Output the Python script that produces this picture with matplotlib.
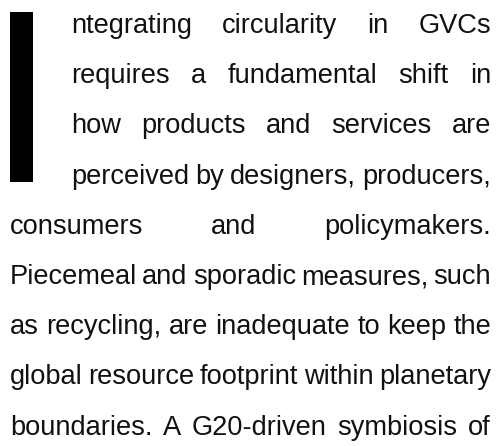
import matplotlib.pyplot as plt
from matplotlib.patches import Rectangle

# paragraph text, one entry per printed line
lines = [
    "ntegrating circularity in GVCs",
    "requires a fundamental shift in",
    "how products and services are",
    "perceived by designers, producers,",
    "consumers and policymakers.",
    "Piecemeal and sporadic measures, such",
    "as recycling, are inadequate to keep the",
    "global resource footprint within planetary",
    "boundaries. A G20-driven symbiosis of",
]
# lines beside the drop cap are indented
indented = [True, True, True, True, False, False, False, False, False]

W, H = 498, 446
fig = plt.figure(figsize=(W / 100, H / 100), dpi=100)
ax = fig.add_axes([0, 0, 1, 1])
ax.set_xlim(0, W)
ax.set_ylim(H, 0)
ax.axis('off')

# drop cap bar
ax.add_patch(Rectangle((10, 12), 23, 170, color='black', lw=0))

left_full, left_ind, right = 10, 71, 491
first_base, step = 33, 50.2
min_gap = 5

fig.canvas.draw()
renderer = fig.canvas.get_renderer()

texts_all = []
for i, line in enumerate(lines):
    y = first_base + i * step
    texts_all.append([ax.text(0, y, w, family='Liberation Sans', color='#111111',
                              va='baseline', ha='left') for w in line.split()])


def layout(fs):
    res = []
    for i, texts in enumerate(texts_all):
        for t in texts:
            t.set_fontsize(fs)
        x0 = left_ind if indented[i] else left_full
        widths = [t.get_window_extent(renderer).width for t in texts]
        gap = (right - x0 - sum(widths)) / (len(texts) - 1)
        res.append((x0, widths, gap))
    return res


# largest size at which every justified line still has a visible word gap
fs = 22
while min(g for _, _, g in layout(fs)) < min_gap:
    fs -= 0.1

for texts, (x0, widths, gap) in zip(texts_all, layout(fs)):
    x = x0
    for t, w in zip(texts, widths):
        t.set_x(x)
        x += w + gap

fig.savefig('out.png', dpi=100)
